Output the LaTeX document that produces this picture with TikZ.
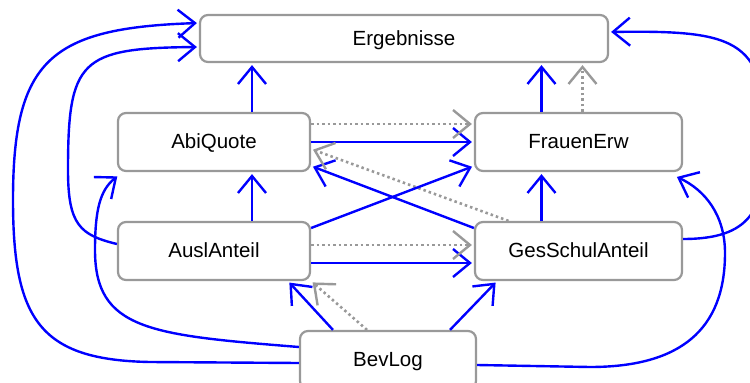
\documentclass[tikz,border=0pt]{standalone}
\usepackage{fontspec}
\setmainfont{Liberation Sans}
\usetikzlibrary{arrows.meta}
\definecolor{boxgray}{RGB}{153,153,153}
\definecolor{edgeblue}{RGB}{0,0,255}
\begin{document}
\begin{tikzpicture}[x=1pt,y=-1pt,
  box/.style={draw=boxgray, line width=2.2pt, rounded corners=8pt, fill=white,
    font=\fontsize{20.5}{24}\selectfont, text=black, inner sep=0pt,
    text height=13pt, text depth=0pt},
  tipb/.style={-{Straight Barb[length=17pt,width=28pt,line width=2.4pt]}},
  blueedge/.style={draw=edgeblue, line width=2.4pt, tipb, shorten >=2pt},
  grayedge/.style={draw=boxgray, line width=2.6pt, dash pattern=on 2.5pt off 3pt, tipb, shorten >=2pt}]
\useasboundingbox (0,0) rectangle (750,383);
\node[box, minimum width=408pt, minimum height=47pt] (Erg) at (404,38.5) {Ergebnisse};
\node[box, minimum width=192pt, minimum height=58pt] (Abi) at (214,142) {AbiQuote};
\node[box, minimum width=207pt, minimum height=58pt] (Frau) at (578.5,142) {FrauenErw};
\node[box, minimum width=192pt, minimum height=58pt] (Ausl) at (214,251) {AuslAnteil};
\node[box, minimum width=207pt, minimum height=58pt] (Ges) at (578.5,251) {GesSchulAnteil};
\node[box, minimum width=176pt, minimum height=58pt] (Bev) at (388,360) {BevLog};

% straight edges
\draw[blueedge] ([xshift=38pt]Abi.north) -- ([xshift=38pt]Abi.north |- Erg.south);
\draw[blueedge] ([xshift=-37pt]Frau.north) -- ([xshift=-37pt]Frau.north |- Erg.south);
\draw[grayedge] ([xshift=4pt]Frau.north) -- ([xshift=4pt]Frau.north |- Erg.south);
\draw[blueedge] (Abi.east) -- (Frau.west);
\draw[grayedge] ([yshift=18pt]Abi.east) -- ([yshift=18pt]Frau.west);
\draw[blueedge] ([yshift=23pt]Ges.west) -- ([yshift=-24pt]Abi.east);
\draw[grayedge] ([xshift=-70pt]Ges.north) -- ([yshift=-7pt]Abi.east);
\draw[blueedge] ([yshift=23pt]Ausl.east) -- ([yshift=-24pt]Frau.west);
\draw[blueedge] ([yshift=-12pt]Ausl.east) -- ([yshift=-12pt]Ges.west);
\draw[grayedge] ([yshift=6pt]Ausl.east) -- ([yshift=6pt]Ges.west);
\draw[blueedge] ([xshift=38pt]Ausl.north) -- ([xshift=38pt]Abi.south);
\draw[blueedge] ([xshift=-37pt]Ges.north) -- ([xshift=-37pt]Frau.south);
\draw[blueedge] ([xshift=-55pt]Bev.north) -- ([xshift=74pt]Ausl.south);
\draw[grayedge] ([xshift=-21pt]Bev.north) -- (Ausl.south east);
\draw[blueedge] ([xshift=62pt]Bev.north) -- ([xshift=-81.5pt]Ges.south);

% curved edges
\draw[blueedge] ([yshift=12pt]Ges.east) .. controls (750,239) and (765,210) .. (765,150)
  .. controls (768,40) and (740,30) .. ([yshift=6.5pt]Erg.east);
\draw[blueedge] ([yshift=-5pt]Bev.east) -- (590,367) .. controls (680,367) and (725,330) .. (725,253)
  .. controls (725,215) and (705,190) .. ([xshift=-8pt,yshift=-4pt]Frau.south east);
\draw[blueedge] ([yshift=7pt]Ausl.west) .. controls (80,235) and (68,225) .. (68,170)
  .. controls (68,60) and (80,48) .. ([yshift=-8.5pt]Erg.west);
\draw[blueedge] ([yshift=-3pt]Bev.west) -- (150,362) .. controls (40,360) and (13,320) .. (13,200)
  .. controls (13,60) and (50,28) .. ([yshift=15.5pt]Erg.west);
\draw[blueedge] ([yshift=13pt]Bev.west) .. controls (150,335) and (95,330) .. (95,250)
  .. controls (95,210) and (100,190) .. ([xshift=2pt,yshift=-3pt]Abi.south west);
\end{tikzpicture}
\end{document}
